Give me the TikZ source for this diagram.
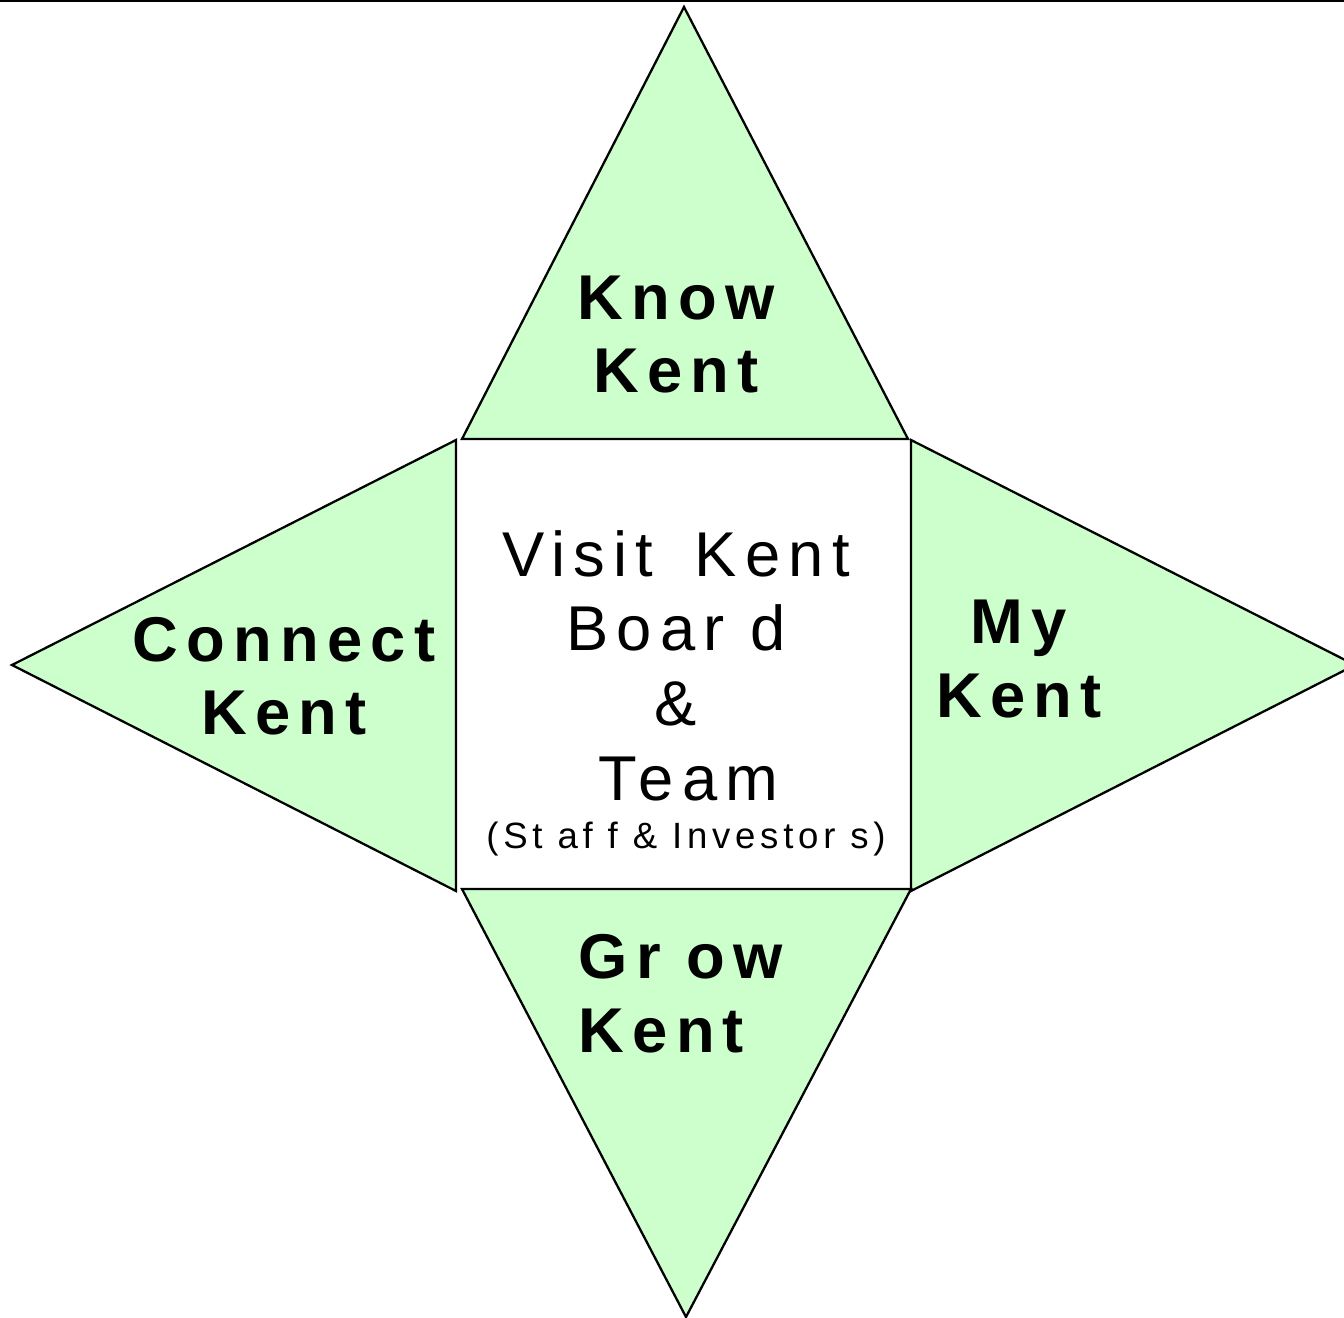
\documentclass[tikz,border=0pt]{standalone}
\usepackage{fontspec}
\setmainfont{Liberation Sans}
\newfontfamily\spacedfont[LetterSpace=13]{Liberation Sans}

\definecolor{facecolor}{RGB}{204,255,204}
\definecolor{edgecolor}{RGB}{0,0,0}

\tikzset{
  face/.style={fill=facecolor, draw=edgecolor, line width=0.65pt, line join=miter},
  biglabel/.style={font=\spacedfont\bfseries\fontsize{18}{21}\selectfont, align=center, anchor=base, inner sep=0pt},
  centrelabel/.style={font=\spacedfont\fontsize{18}{21.2}\selectfont, align=center, anchor=base, inner sep=0pt},
  smalllabel/.style={font=\spacedfont\fontsize{10.4}{12}\selectfont, anchor=base, inner sep=0pt}
}

\begin{document}
\begin{tikzpicture}[x=0.01cm, y=-0.01cm]
      % Fix the page to the reference size
      \useasboundingbox (0,0) rectangle (1344,1318);
      \draw[line width=0.65pt] (0,1) -- (1344,1);

      % Draw the four triangles round the board square
      \draw[face] (462,439) -- (684,7) -- (908,439) -- cycle;
      \draw[face] (456,440) -- (12,665) -- (456,891) -- cycle;
      \draw[face] (911,440) -- (1355,665) -- (911,891) -- cycle;
      \draw[face] (462,889) -- (686,1317) -- (911,889) -- cycle;

      % Triangle labels (base = last line)
      \node[biglabel] (know) at (676,393) {Know\\Kent};
      \node[biglabel] (connect) at (284,735) {Connect\\Kent};
      \node[biglabel] (my) at (1019,717) {My\\Kent};
      \node[biglabel, align=left, anchor=base west] (grow) at (578,1052) {Gr ow\\Kent};

      % Board and team in the middle
      \node[centrelabel] (board) at (676,800) {Visit\hspace{0.25em} Kent\\Boar d\\\&\\\hspace{0.4em}Team};
      \node[smalllabel] (staff) at (686,848) {(St af f \& Investor s)};
\end{tikzpicture}
\end{document}
